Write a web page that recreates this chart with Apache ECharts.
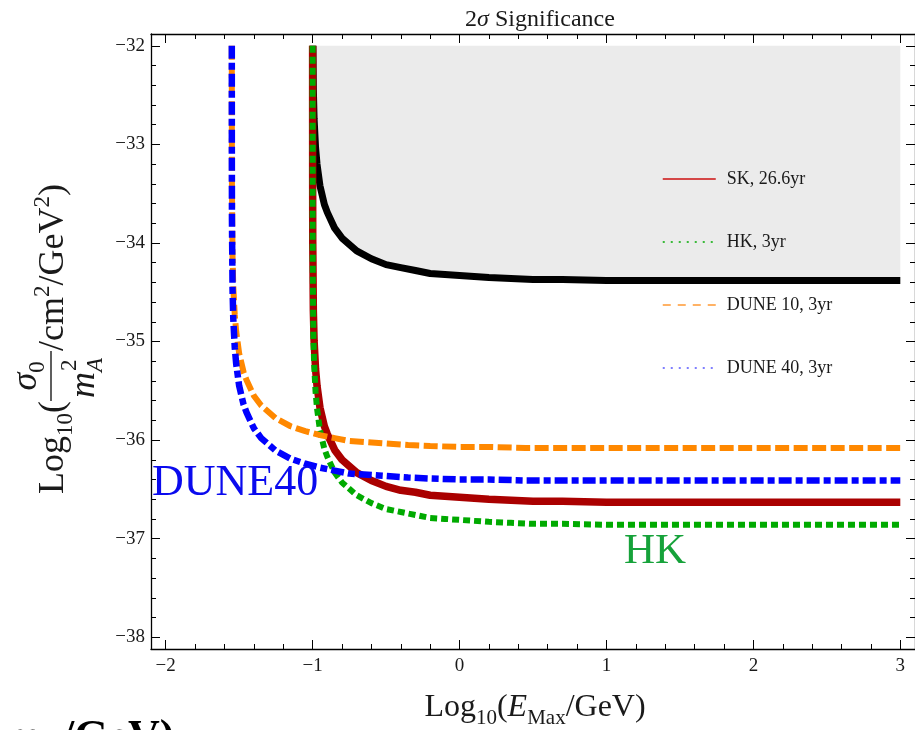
<!DOCTYPE html>
<html>
<head>
<meta charset="utf-8">
<script src="https://cdn.jsdelivr.net/npm/echarts@6/dist/echarts.min.js"></script>
<style>
  html, body { margin: 0; padding: 0; background: #fff; }
  #main { width: 915px; height: 730px; }
</style>
</head>
<body>
<div id="main"></div>
<script>
  // tick labels
  const xMajor = [-2, -1, 0, 1, 2, 3];
  const yMajor = [-38, -37, -36, -35, -34, -33, -32];

  // curves, [Log10(Emax/GeV), Log10(sigma0/mA^2)]
  const limitData = [
    [-0.998, -32.0], [-0.995, -32.44], [-0.99, -32.74], [-0.98, -33.03], [-0.97, -33.20],
    [-0.95, -33.42], [-0.92, -33.61], [-0.90, -33.69], [-0.85, -33.85], [-0.80, -33.95],
    [-0.70, -34.08], [-0.60, -34.16], [-0.50, -34.22], [-0.40, -34.25], [-0.30, -34.28],
    [-0.20, -34.31], [-0.10, -34.32], [0.0, -34.33], [0.1, -34.34], [0.2, -34.35],
    [0.35, -34.36], [0.5, -34.37], [0.7, -34.37], [1.0, -34.38], [3.0, -34.38]
  ];
  const skData = [
    [-1.0, -32.0], [-0.9998, -33.29], [-0.999, -33.99], [-0.995, -34.69], [-0.99, -34.99],
    [-0.98, -35.28], [-0.97, -35.45], [-0.95, -35.67], [-0.92, -35.86], [-0.90, -35.94],
    [-0.85, -36.10], [-0.80, -36.20], [-0.70, -36.33], [-0.60, -36.41], [-0.50, -36.47],
    [-0.40, -36.51], [-0.30, -36.53], [-0.20, -36.56], [-0.10, -36.57], [0.0, -36.58],
    [0.1, -36.59], [0.2, -36.60], [0.35, -36.61], [0.5, -36.62], [0.7, -36.62],
    [1.0, -36.63], [3.0, -36.63]
  ];
  const hkData = [
    [-1.0, -32.0], [-0.9998, -33.52], [-0.999, -34.22], [-0.995, -34.92], [-0.99, -35.22],
    [-0.98, -35.51], [-0.97, -35.68], [-0.95, -35.90], [-0.92, -36.09], [-0.90, -36.17],
    [-0.85, -36.33], [-0.80, -36.43], [-0.70, -36.56], [-0.60, -36.64], [-0.50, -36.70],
    [-0.40, -36.73], [-0.30, -36.76], [-0.20, -36.79], [-0.10, -36.80], [0.0, -36.81],
    [0.1, -36.82], [0.2, -36.83], [0.35, -36.84], [0.5, -36.85], [0.7, -36.85],
    [1.0, -36.86], [3.0, -36.86]
  ];
  const dune10Data = [
    [-1.55, -32.0], [-1.5498, -32.74], [-1.549, -33.44], [-1.545, -34.14], [-1.54, -34.44],
    [-1.53, -34.73], [-1.52, -34.90], [-1.50, -35.12], [-1.47, -35.31], [-1.45, -35.39],
    [-1.40, -35.55], [-1.35, -35.65], [-1.25, -35.78], [-1.15, -35.86], [-1.05, -35.91],
    [-0.95, -35.95], [-0.85, -35.98], [-0.75, -36.01], [-0.65, -36.02], [-0.55, -36.03],
    [-0.45, -36.04], [-0.35, -36.05], [-0.20, -36.06], [0.0, -36.07], [0.2, -36.07],
    [0.45, -36.08], [3.0, -36.08]
  ];
  const dune40Data = [
    [-1.55, -32.0], [-1.5498, -33.07], [-1.549, -33.77], [-1.545, -34.47], [-1.54, -34.77],
    [-1.53, -35.06], [-1.52, -35.23], [-1.50, -35.45], [-1.47, -35.64], [-1.45, -35.72],
    [-1.40, -35.88], [-1.35, -35.98], [-1.25, -36.11], [-1.15, -36.19], [-1.05, -36.24],
    [-0.95, -36.28], [-0.85, -36.31], [-0.75, -36.34], [-0.65, -36.35], [-0.55, -36.36],
    [-0.45, -36.37], [-0.35, -36.38], [-0.20, -36.39], [0.0, -36.40], [0.2, -36.40],
    [0.45, -36.41], [3.0, -36.41]
  ];

  const SERIF = '"Liberation Serif", "DejaVu Serif", serif';

  // 4 minor ticks between major ticks
  function minorTicks(majors) {
    let out = [];
    for (let i = 1; i < majors.length; i++) {
      for (let k = 1; k < 5; k++) {
        out.push(+(majors[i - 1] + k * (majors[i] - majors[i - 1]) / 5).toFixed(3));
      }
    }
    return out;
  }
  const xMinor = minorTicks(xMajor);
  const yMinor = minorTicks(yMajor);

  function minusFmt(v) {
    return v < 0 ? '\u2212' + Math.abs(v) : String(v);
  }

  function makeAxis(pos, min, max, ticks, len, main, labels) {
    return {
      type: 'value',
      position: pos,
      min: min,
      max: max,
      axisLine: { show: main, onZero: false, lineStyle: { color: '#000', width: 1.3 } },
      axisTick: { show: true, inside: true, length: len, customValues: ticks,
        lineStyle: { color: '#000', width: 1 } },
      axisLabel: labels ? {
        show: true, customValues: ticks, formatter: minusFmt,
        fontFamily: SERIF, fontSize: 19, color: '#1a1a1a',
        margin: (pos === 'bottom') ? 8 : 6
      } : { show: false },
      splitLine: { show: false }
    };
  }

  // text pieces for math-like titles
  const measureCtx = document.createElement('canvas').getContext('2d');
  function fontOf(p) {
    return (p.it ? 'italic ' : '') + p.s + 'px ' + SERIF;
  }
  function textWidth(p) {
    measureCtx.font = fontOf(p);
    return measureCtx.measureText(p.t).width;
  }
  function piece(p, x, baseY, z) {
    return {
      type: 'text', x: x, y: baseY + (p.dy || 0) - 0.32 * p.s, z: z || 5,
      style: { text: p.t, font: fontOf(p), fill: '#1a1a1a', verticalAlign: 'middle', textAlign: 'left' }
    };
  }
  function rowPieces(parts, startX, baseY) {
    let els = [];
    let cx = startX;
    parts.forEach(p => {
      els.push(piece(p, cx + (p.dx || 0), baseY));
      cx += textWidth(p) + (p.dx || 0);
    });
    return { els: els, end: cx };
  }
  function rowWidth(parts) {
    let w = 0;
    parts.forEach(p => { w += textWidth(p) + (p.dx || 0); });
    return w;
  }

  // x title: Log10(E_Max/GeV)
  const xs = 32, xsub = 21;
  const xTitleParts = [
    { t: 'Log', s: xs }, { t: '10', s: xsub, dy: 7 }, { t: '(', s: xs },
    { t: 'E', s: xs, it: true }, { t: 'Max', s: xsub, dy: 7 }, { t: '/GeV)', s: xs }
  ];
  const xTitleW = rowWidth(xTitleParts);
  const xTitle = rowPieces(xTitleParts, 535 - xTitleW / 2, 718).els;

  // y title: Log10( sigma0 / mA^2 /cm^2/GeV^2), rotated
  const ys = 36, ysub = 23;
  const yPre = [{ t: 'Log', s: ys }, { t: '10', s: ysub, dy: 8 }, { t: '(', s: ys }];
  const num = [{ t: '\u03c3', s: ys, it: true }, { t: '0', s: ysub, dy: 7 }];
  const den = [{ t: 'm', s: ys, it: true }, { t: 'A', s: ysub, it: true, dy: 7 }];
  const yPost = [{ t: '/cm', s: ys }, { t: '2', s: ysub, dy: -15 }, { t: '/GeV', s: ys },
    { t: '2', s: ysub, dy: -15 }, { t: ')', s: ys }];
  const fracW = Math.max(rowWidth(num), rowWidth(den) + 4) + 6;
  const yTotal = rowWidth(yPre) + fracW + rowWidth(yPost);
  let yEls = [];
  let r1 = rowPieces(yPre, -yTotal / 2, 0);
  yEls = yEls.concat(r1.els);
  const fx = r1.end;
  yEls = yEls.concat(rowPieces(num, fx + (fracW - rowWidth(num)) / 2, -27).els);
  let dRow = rowPieces(den, fx + 3, 31);
  yEls = yEls.concat(dRow.els);
  yEls.push(piece({ t: '2', s: ysub }, dRow.end - textWidth({ t: 'A', s: ysub, it: true }) + 1, 31 - 19));
  yEls.push({ type: 'line', z: 5, shape: { x1: fx, y1: -14, x2: fx + fracW, y2: -14 },
    style: { stroke: '#1a1a1a', lineWidth: 1.4 } });
  yEls = yEls.concat(rowPieces(yPost, fx + fracW, 0).els);

  const noSymbol = { color: 'rgba(0,0,0,0)', borderWidth: 0, opacity: 0 };

  let myChart = echarts.init(document.getElementById('main'));

  let option = {
    backgroundColor: '#fff',
    animation: false,
    title: {
      text: '{a|2}{b|\u03c3}{a| Significance}',
      left: 535,
      textAlign: 'center',
      top: 3,
      textStyle: {
        rich: {
          a: { fontFamily: SERIF, fontSize: 24, fontWeight: 'normal', color: '#1a1a1a' },
          b: { fontFamily: SERIF, fontSize: 24, fontWeight: 'normal', fontStyle: 'italic', color: '#1a1a1a' }
        }
      }
    },
    grid: { left: 151, right: -5, top: 34, bottom: 81 },
    legend: {
      orient: 'vertical',
      left: 662,
      top: 170,
      itemWidth: 53,
      itemHeight: 20,
      itemGap: 45,
      padding: 0,
      selectedMode: false,
      textStyle: { fontFamily: SERIF, fontSize: 18, color: '#1a1a1a', padding: [0, 0, 0, 6] },
      data: [
        { name: 'SK, 26.6yr', itemStyle: noSymbol, lineStyle: { color: '#cc1111', width: 1.5, type: 'solid' } },
        { name: 'HK, 3yr', itemStyle: noSymbol, lineStyle: { color: '#00aa00', width: 1.5, type: [2, 6] } },
        { name: 'DUNE 10, 3yr', itemStyle: noSymbol, lineStyle: { color: '#ff9933', width: 1.5, type: [8, 7] } },
        { name: 'DUNE 40, 3yr', itemStyle: noSymbol, lineStyle: { color: '#5555ff', width: 1.5, type: [2, 6] } }
      ]
    },
    xAxis: [
      makeAxis('bottom', -2.1, 3.1, xMajor, 9, true, true),
      makeAxis('bottom', -2.1, 3.1, xMinor, 5, false, false),
      makeAxis('top', -2.1, 3.1, xMajor, 9, true, false),
      makeAxis('top', -2.1, 3.1, xMinor, 5, false, false)
    ],
    yAxis: [
      makeAxis('left', -38.12, -31.88, yMajor, 9, true, true),
      makeAxis('left', -38.12, -31.88, yMinor, 5, false, false),
      makeAxis('right', -38.12, -31.88, yMajor, 9, true, false),
      makeAxis('right', -38.12, -31.88, yMinor, 5, false, false)
    ],
    graphic: [
      // legend box
      { type: 'rect', z: 3, shape: { x: 652, y: 139, width: 218, height: 275 }, style: { fill: '#fff' } },
      { type: 'text', z: 5, x: 152, y: 498 - 0.32 * 44,
        style: { text: 'DUNE40', font: '44px ' + SERIF, fill: '#0a0aee', verticalAlign: 'middle' } },
      { type: 'text', z: 5, x: 624, y: 565 - 0.32 * 43,
        style: { text: 'HK', font: '43px ' + SERIF, fill: '#16a23a', verticalAlign: 'middle' } },
      // cut-off text from neighbouring figure
      { type: 'text', z: 5, x: 4, y: 753 - 0.32 * 44,
        style: { text: 'm', font: 'bold 44px ' + SERIF, fill: '#000', verticalAlign: 'middle' } },
      { type: 'text', z: 5, x: 62, y: 753 - 0.32 * 44,
        style: { text: '/GeV)', font: 'bold 44px ' + SERIF, fill: '#000', verticalAlign: 'middle' } },
      { type: 'group', z: 5, children: xTitle },
      { type: 'group', x: 65, y: 339, rotation: Math.PI / 2, children: yEls }
    ],
    series: [
      {
        name: 'limit', type: 'line', data: limitData, symbol: 'none',
        lineStyle: { color: '#000', width: 7, join: 'round' },
        areaStyle: { color: '#ebebeb', opacity: 1, origin: -32 }
      },
      {
        name: 'SK, 26.6yr', type: 'line', data: skData, symbol: 'none',
        lineStyle: { color: '#aa0000', width: 7.5, join: 'round' }
      },
      {
        name: 'HK, 3yr', type: 'line', data: hkData, symbol: 'none',
        lineStyle: { color: '#00aa00', width: 6, type: [7, 4] }
      },
      {
        name: 'DUNE 10, 3yr', type: 'line', data: dune10Data, symbol: 'none',
        lineStyle: { color: '#ff8800', width: 6, type: [14, 4.5] }
      },
      {
        name: 'DUNE 40, 3yr', type: 'line', data: dune40Data, symbol: 'none',
        lineStyle: { color: '#0000ff', width: 6.5, type: [13, 4, 7, 4] }
      }
    ]
  };

  myChart.setOption(option);
</script>
</body>
</html>
